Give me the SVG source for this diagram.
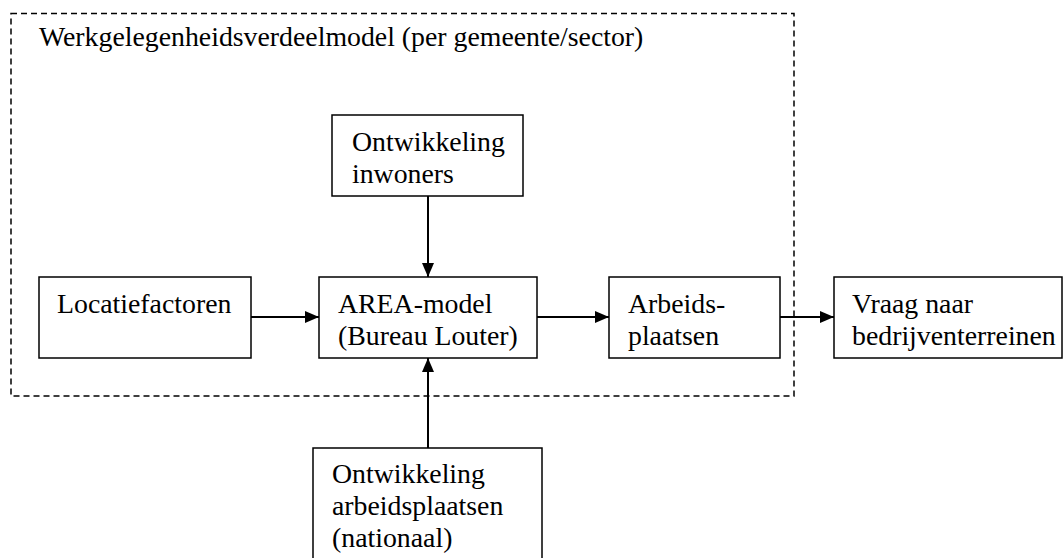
<svg xmlns="http://www.w3.org/2000/svg" width="1064" height="558" viewBox="0 0 1064 558">
<style>
.box{fill:#fff;stroke:#000;stroke-width:1.5}
text{font-family:'Liberation Serif','Times New Roman',Times,serif;font-size:27.8px;fill:#000}
.c{stroke:#000;stroke-width:2;fill:none}
</style>
<defs>
<marker id="ah" markerUnits="userSpaceOnUse" markerWidth="14" markerHeight="12" refX="14" refY="6" orient="auto">
<path d="M0,0 L14,6 L0,12 Z" fill="#000"/>
</marker>
</defs>
<rect width="1064" height="558" fill="#fff"/>
<g id="container">
<rect x="11" y="13.5" width="783" height="382.5" fill="none" stroke="#000" stroke-width="1.5" stroke-dasharray="6,4"/>
<text x="39" y="46">Werkgelegenheidsverdeelmodel (per gemeente/sector)</text>
</g>
<g id="inwoners">
<rect class="box" x="332" y="115" width="191" height="81"/>
<text x="352" y="151">Ontwikkeling</text>
<text x="352" y="183">inwoners</text>
</g>
<g id="locatie">
<rect class="box" x="39" y="277" width="212" height="81"/>
<text x="57" y="313">Locatiefactoren</text>
</g>
<g id="area">
<rect class="box" x="319" y="277" width="218" height="81"/>
<text x="338" y="313">AREA-model</text>
<text x="338" y="345">(Bureau Louter)</text>
</g>
<g id="arbeid">
<rect class="box" x="609" y="277" width="171" height="81"/>
<text x="628" y="313">Arbeids-</text>
<text x="628" y="345">plaatsen</text>
</g>
<g id="vraag">
<rect class="box" x="834" y="277" width="228" height="81"/>
<text x="852" y="313">Vraag naar</text>
<text x="852" y="345">bedrijventerreinen</text>
</g>
<g id="nationaal">
<rect class="box" x="313" y="448" width="229" height="112"/>
<text x="332" y="483">Ontwikkeling</text>
<text x="332" y="515">arbeidsplaatsen</text>
<text x="332" y="547">(nationaal)</text>
</g>
<g id="connectors">
<line class="c" x1="428" y1="196" x2="428" y2="277" marker-end="url(#ah)"/>
<line class="c" x1="251" y1="317" x2="319" y2="317" marker-end="url(#ah)"/>
<line class="c" x1="537" y1="317" x2="609" y2="317" marker-end="url(#ah)"/>
<line class="c" x1="780" y1="317" x2="834" y2="317" marker-end="url(#ah)"/>
<line class="c" x1="428" y1="448" x2="428" y2="358" marker-end="url(#ah)"/>
</g>
</svg>
